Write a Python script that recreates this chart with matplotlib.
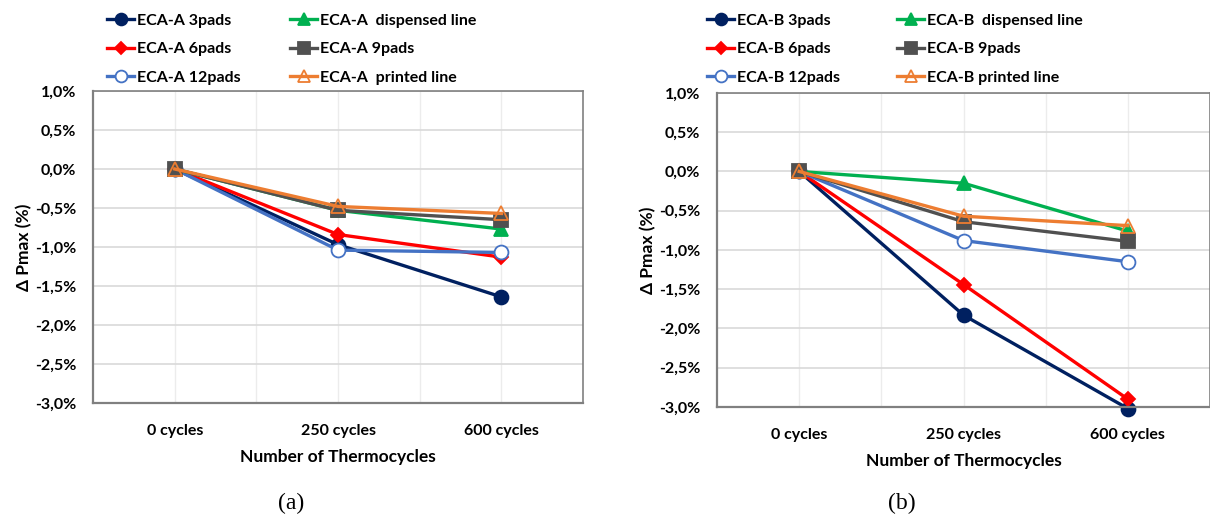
import matplotlib.pyplot as plt
from matplotlib.ticker import FuncFormatter, MultipleLocator

plt.rcParams['font.family'] = ['Lato', 'DejaVu Sans']

categories = ['0 cycles', '250 cycles', '600 cycles']

# values in percent
a_3pads = [0.0, -0.97, -1.64]
a_6pads = [0.0, -0.84, -1.13]
a_12pads = [0.0, -1.04, -1.07]
a_dispensed = [0.0, -0.53, -0.77]
a_9pads = [0.0, -0.53, -0.65]
a_printed = [0.0, -0.48, -0.57]

b_3pads = [0.0, -1.83, -3.02]
b_6pads = [0.0, -1.44, -2.90]
b_12pads = [0.0, -0.88, -1.15]
b_dispensed = [0.0, -0.15, -0.76]
b_9pads = [0.0, -0.64, -0.89]
b_printed = [0.0, -0.57, -0.69]

styles = [
    dict(color='#002060', marker='o', ms=10, mfc='#002060'),
    dict(color='#FF0000', marker='D', ms=7, mfc='#FF0000'),
    dict(color='#4472C4', marker='o', ms=10, mfc='white'),
    dict(color='#00B050', marker='^', ms=10, mfc='#00B050'),
    dict(color='#505050', marker='s', ms=10, mfc='#505050'),
    dict(color='#ED7D31', marker='^', ms=10, mfc='none'),
]

fig = plt.figure(figsize=(12.1, 5.2), dpi=100)
ax_a = fig.add_axes([0.0769, 0.225, 0.405, 0.600])
ax_b = fig.add_axes([0.5926, 0.2173, 0.4074, 0.604])

pct = FuncFormatter(lambda v, p: f'{v:.1f}%'.replace('.', ','))


def draw(ax, series, labels, tag, tag_x, col_x):
    x = list(range(len(categories)))
    for gx in [0.0, 0.5, 1.0, 1.5, 2.0]:
        ax.axvline(gx, color='#ececec', lw=1.0, zorder=0)
    handles = []
    for vals, lab, st in zip(series, labels, styles):
        h, = ax.plot(x, vals, lw=2.4, mew=1.3, mec=st['color'], label=lab,
                     color=st['color'], marker=st['marker'], ms=st['ms'],
                     mfc=st['mfc'], clip_on=False)
        handles.append(h)
    ax.set_xlim(-0.5, 2.5)
    ax.set_ylim(-3.0, 1.0)
    ax.yaxis.set_major_locator(MultipleLocator(0.5))
    ax.yaxis.set_major_formatter(pct)
    ax.set_xticks(x)
    ax.set_xticklabels(categories)
    ax.grid(True, axis='y', color='#d9d9d9', lw=1.2)
    ax.set_axisbelow(True)
    ax.tick_params(length=0, labelsize=11.5)
    ax.tick_params(axis='x', pad=15)
    ax.tick_params(axis='y', pad=12)
    for lab in ax.get_xticklabels() + ax.get_yticklabels():
        lab.set_fontweight('bold')
    for sp in ax.spines.values():
        sp.set_color('#808080')
        sp.set_linewidth(1.2)
    ax.spines['left'].set_linewidth(1.6)
    ax.spines['bottom'].set_linewidth(1.6)
    ax.set_xlabel('Number of Thermocycles', fontsize=12.5, fontweight='bold', labelpad=8)
    ax.set_ylabel('Δ Pmax (%)', fontsize=12.5, fontweight='bold', labelpad=2)
    fig.text(tag_x, 0.032, tag, ha='center', va='center',
             fontsize=17, family='Liberation Serif')
    for i, cx in enumerate(col_x):
        leg = fig.legend(handles=handles[3 * i:3 * i + 3], loc='upper left',
                         bbox_to_anchor=(cx, 0.974), frameon=False,
                         prop=dict(size=11.5, weight='bold'),
                         handlelength=1.7, handletextpad=0.15,
                         labelspacing=0.9, borderaxespad=0, borderpad=0)
        for lh in leg.legend_handles:
            lh.set_markersize(lh.get_markersize() * 0.85)


draw(ax_a, [a_3pads, a_6pads, a_12pads, a_dispensed, a_9pads, a_printed],
     ['ECA-A 3pads', 'ECA-A 6pads', 'ECA-A 12pads',
      'ECA-A  dispensed line', 'ECA-A 9pads', 'ECA-A  printed line'],
     '(a)', 0.2405, [107 / 1210, 290 / 1210])
draw(ax_b, [b_3pads, b_6pads, b_12pads, b_dispensed, b_9pads, b_printed],
     ['ECA-B 3pads', 'ECA-B 6pads', 'ECA-B 12pads',
      'ECA-B  dispensed line', 'ECA-B 9pads', 'ECA-B printed line'],
     '(b)', 0.7455, [707 / 1210, 897 / 1210])

fig.savefig('out.png', dpi=100)
